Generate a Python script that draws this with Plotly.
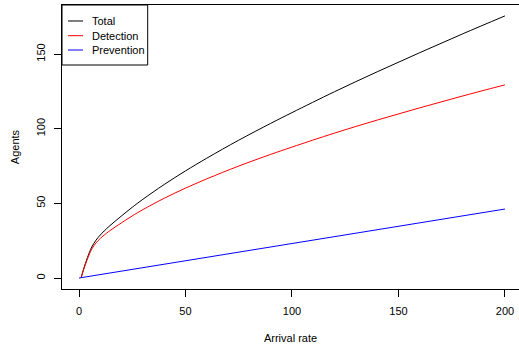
import plotly.graph_objects as go

# Data
det_x = [1, 2, 3, 4, 5, 6, 8, 10, 14, 20, 25, 30, 40, 50, 60, 75, 90, 100, 120, 140, 160, 180, 200]
detection = [0, 4.8, 9.0, 12.9, 16.4, 19.4, 23.5, 26.5, 31.2, 37.0, 41.6, 45.8, 53.4, 60.2, 66.4,
             75.0, 82.8, 87.7, 97.1, 105.8, 114.0, 121.9, 129.4]
total = [0.23, 5.26, 9.69, 13.82, 17.56, 20.79, 25.35, 28.81, 34.43, 41.62, 47.38, 52.73, 62.64,
         71.75, 80.26, 92.33, 103.59, 110.8, 124.82, 138.14, 150.96, 163.48, 175.6]
prev_x = [0, 50, 100, 150, 200]
prevention = [0, 11.55, 23.1, 34.65, 46.2]

series_names = ["Total", "Detection", "Prevention"]
series_colors = ["black", "red", "blue"]
x_ticks = [0, 50, 100, 150, 200]
y_ticks = [0, 50, 100, 150]

FONT = "Liberation Sans, Arial, Helvetica, sans-serif"

fig = go.Figure()
fig.add_trace(go.Scatter(x=det_x, y=total, mode="lines", line=dict(color="black", width=1, shape="spline"),
                         name="Total", showlegend=False))
fig.add_trace(go.Scatter(x=det_x, y=detection, mode="lines", line=dict(color="red", width=1, shape="spline"),
                         name="Detection", showlegend=False))
fig.add_trace(go.Scatter(x=prev_x, y=prevention, mode="lines", line=dict(color="blue", width=1),
                         name="Prevention", showlegend=False))

# Manual legend (R style)
fig.add_shape(type="rect", xref="paper", yref="paper", x0=0, x1=0.1875, y0=0.7887, y1=1.0,
              line=dict(color="black", width=1), fillcolor="white", layer="above")
rows = [0.9437, 0.8919, 0.8415]
for name, col, yy in zip(series_names, series_colors, rows):
    fig.add_shape(type="line", xref="paper", yref="paper", x0=0.0131, x1=0.046, y0=yy, y1=yy,
                  line=dict(color=col, width=1), layer="above")
    fig.add_annotation(xref="paper", yref="paper", x=0.0613, y=yy, text=name, showarrow=False,
                       xanchor="left", yanchor="middle", font=dict(family=FONT, size=11, color="black"))

fig.update_layout(
    width=519, height=349,
    margin=dict(l=62, r=0, t=5, b=60),
    paper_bgcolor="white", plot_bgcolor="white",
    font=dict(family=FONT, size=11, color="black"),
    showlegend=False,
)
fig.update_xaxes(range=[-7.98, 206.6], tickvals=x_ticks, ticks="outside", ticklen=7, tickcolor="black",
                 showline=True, linecolor="black", linewidth=1, mirror=True, showgrid=False, zeroline=False,
                 ticklabelstandoff=5,
                 title=dict(text="Arrival rate", font=dict(family=FONT, size=11), standoff=18))
fig.update_yaxes(range=[-7.37, 182.9], tickvals=y_ticks, ticks="outside", ticklen=7, tickcolor="black",
                 showline=True, linecolor="black", linewidth=1, showgrid=False, zeroline=False,
                 tickangle=-90, ticklabelstandoff=5,
                 title=dict(text="Agents", font=dict(family=FONT, size=11), standoff=12))

fig.write_html("out.html")
